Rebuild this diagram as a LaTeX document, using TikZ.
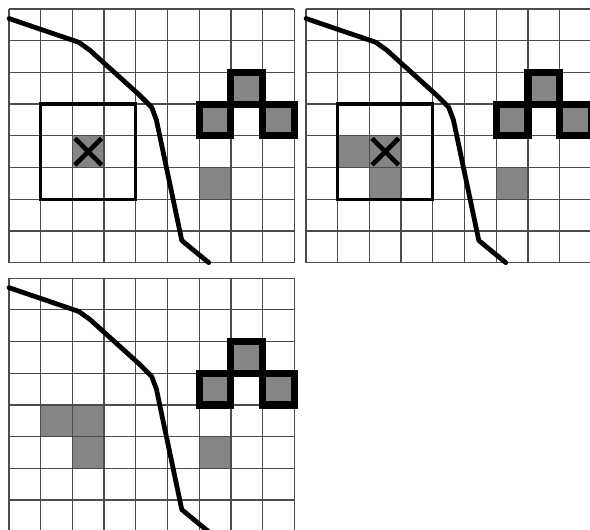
\documentclass[tikz,border=0pt]{standalone}
\begin{document}
\begin{tikzpicture}[gridline/.style={draw=black!70, line width=1.15pt},hit/.style={fill=black!48},outline/.style={draw=black, line width=6.4pt, line join=miter},window/.style={draw=black, line width=2.9pt},cross/.style={draw=black, line width=4.2pt},coast/.style={draw=black, line width=4.3pt, line join=round, line cap=round}]
\useasboundingbox (-0.284,0.284) rectangle (18.328,-16.404);
% shaded cells
\foreach \dx/\dy in {0/0,9.37/0,0/-8.49}{\path[hit,shift={(\dx,\dy)}] (6,-5) rectangle (7,-6) (6,-3) rectangle (7,-4) (7,-2) rectangle (8,-3) (8,-3) rectangle (9,-4);}
\path[hit] (2,-4) rectangle (3,-5);
\path[hit,shift={(9.37,0)}] (1,-4) rectangle (3,-5) (2,-5) rectangle (3,-6);
\path[hit,shift={(0,-8.49)}] (1,-4) rectangle (3,-5) (2,-5) rectangle (3,-6);
% grids, curve and the three-cell block
\foreach \dx/\dy in {0/0,9.37/0,0/-8.49}{
\begin{scope}[shift={(\dx,\dy)}]
\draw[gridline] (0,0) grid (9,-8);
\draw[coast] (0,-0.3) -- (2.2,-1.05) -- (2.55,-1.3) -- (4.1,-2.7) -- (4.5,-3.1) -- (4.65,-3.5) -- (5.45,-7.3) -- (5.75,-7.55) -- (6.3,-8);
\draw[outline] (6,-3) rectangle (7,-4) (7,-2) rectangle (8,-3) (8,-3) rectangle (9,-4);
\end{scope}}
% search window and current cell
\foreach \dx in {0,9.37}{
\draw[window,shift={(\dx,0)}] (1,-3) rectangle (4,-6);
\draw[cross,shift={(\dx,0)}] (2.08,-4.08) -- (2.92,-4.92) (2.08,-4.92) -- (2.92,-4.08);}
\end{tikzpicture}
\end{document}
